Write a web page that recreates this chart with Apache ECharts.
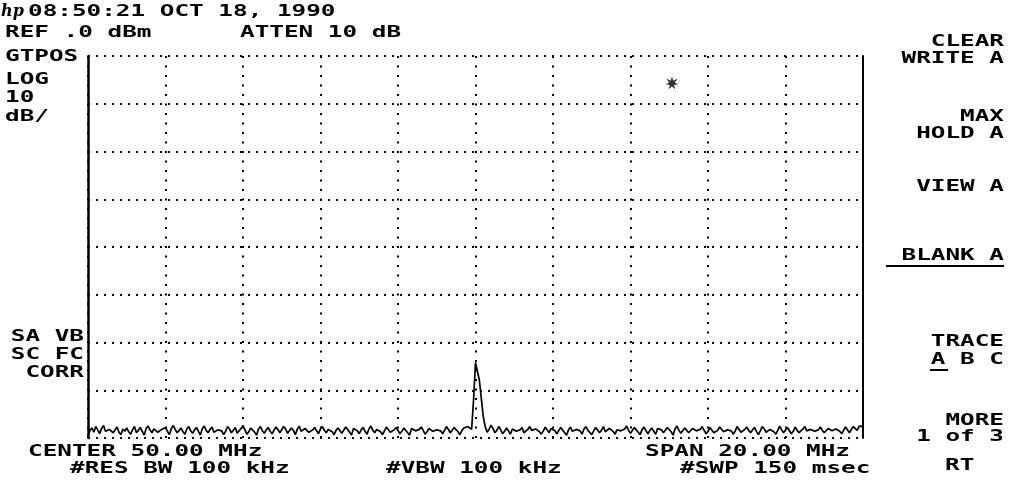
<!DOCTYPE html>
<html>
<head>
<meta charset="utf-8">
<script src="https://cdn.jsdelivr.net/npm/echarts@6/dist/echarts.min.js"></script>
<style>
html,body{margin:0;padding:0;background:#fff;}
#chart{width:1013px;height:487px;}
</style>
</head>
<body>
<div id="chart"></div>
<script>
// ---- data ----
const centerMHz = 50.0;
const spanMHz = 20.0;
const refLevel = 0;      // dBm
const dbPerDiv = 10;
const xTicks = [40, 42, 44, 46, 48, 50, 52, 54, 56, 58, 60];
const yTicks = [-80, -70, -60, -50, -40, -30, -20, -10, 0];
// trace A, 401 sweep points, dBm
const traceA = [
-79.6,-78.4,-77.9,-78.8,-77.6,-78.3,-79.1,-78.0,-77.4,-78.6,-79.0,-78.2,-77.8,-78.9,-78.5,-77.7,-78.8,-79.3,-78.1,-78.6,
-77.9,-78.7,-79.2,-78.3,-77.6,-78.9,-78.4,-77.8,-78.6,-79.4,-78.0,-77.5,-78.3,-78.9,-78.1,-77.7,-78.8,-79.1,-78.2,-78.5,
-77.8,-78.6,-79.3,-78.0,-77.4,-78.2,-78.9,-78.4,-77.9,-78.7,-79.2,-78.1,-77.6,-78.5,-79.0,-78.3,-77.8,-78.6,-79.4,-78.0,
-77.5,-78.4,-78.9,-78.2,-77.7,-78.8,-79.1,-78.3,-77.9,-78.5,-79.3,-78.6,-77.6,-78.1,-78.9,-78.4,-77.8,-79.0,-78.5,-78.0,
-77.4,-78.3,-79.2,-78.7,-77.9,-78.2,-78.8,-79.4,-78.1,-77.6,-78.5,-79.0,-78.3,-77.8,-78.6,-79.1,-78.4,-77.7,-78.2,-78.9,
-78.5,-77.6,-78.1,-79.0,-78.7,-77.9,-78.4,-79.3,-78.2,-77.5,-78.6,-78.9,-78.0,-77.7,-78.8,-79.2,-78.3,-77.8,-78.5,-79.1,
-78.1,-77.6,-78.4,-78.9,-78.2,-77.8,-78.7,-79.3,-78.4,-77.9,-78.3,-79.0,-78.6,-77.7,-78.2,-78.8,-79.4,-78.0,-77.6,-78.5,
-79.1,-78.3,-77.8,-78.6,-79.2,-78.1,-77.5,-78.4,-78.9,-78.2,-77.9,-78.7,-79.3,-78.5,-77.7,-78.1,-78.8,-79.0,-78.3,-77.8,
-78.4,-79.1,-78.6,-77.9,-78.2,-78.9,-79.4,-78.0,-77.6,-78.5,-78.8,-78.2,-77.7,-78.4,-79.2,-78.7,-78.0,-77.8,-78.6,-79.0,
-78.3,-77.9,-78.5,-79.1,-78.4,-77.6,-78.2,-78.9,-78.6,-77.8,-78.1,-78.7,-79.3,-78.4,-77.9,-78.2,-77.6,-77.4,-78.2,-72.0,
-64.2,-64.6,-67.9,-68.3,-75.5,-77.6,-78.8,-78.2,-77.3,-78.0,-78.9,-78.4,-77.6,-78.3,-79.1,-78.6,-77.9,-78.5,-79.2,-78.1,
-77.7,-78.6,-79.0,-78.3,-77.8,-78.9,-79.3,-78.2,-77.6,-78.4,-78.8,-78.1,-77.9,-78.7,-79.2,-78.5,-77.7,-78.3,-78.9,-78.0,
-77.6,-78.5,-79.1,-78.4,-77.8,-78.2,-78.9,-79.4,-78.3,-77.7,-78.6,-79.0,-78.2,-77.9,-78.5,-79.2,-78.1,-77.6,-78.4,-78.8,
-79.3,-78.5,-77.8,-78.2,-78.9,-78.4,-77.6,-78.7,-79.1,-78.0,-77.7,-78.6,-79.2,-78.3,-77.9,-78.5,-78.9,-78.1,-77.5,-78.4,
-79.0,-78.6,-77.8,-78.3,-78.8,-79.3,-78.2,-77.7,-78.5,-79.1,-78.4,-77.9,-78.6,-79.2,-78.0,-77.6,-78.3,-78.9,-78.5,-77.8,
-78.2,-78.7,-79.4,-78.1,-77.5,-78.4,-79.0,-78.6,-77.9,-78.3,-78.9,-79.2,-78.0,-77.7,-78.5,-78.8,-78.2,-77.6,-78.4,-79.1,
-78.6,-77.8,-78.2,-78.9,-79.3,-78.4,-77.7,-78.1,-78.7,-79.0,-78.3,-77.9,-78.5,-79.2,-78.6,-77.6,-78.0,-78.8,-79.1,-78.2,
-77.7,-78.4,-78.9,-78.3,-77.8,-78.6,-79.3,-78.5,-77.6,-78.1,-78.8,-79.0,-78.2,-77.9,-78.7,-79.2,-78.4,-77.5,-78.3,-78.9,
-78.5,-77.8,-78.2,-79.1,-78.6,-77.7,-78.4,-78.9,-79.3,-78.1,-77.6,-78.5,-78.8,-78.2,-77.9,-78.6,-79.0,-78.3,-77.7,-78.4,
-78.9,-79.2,-78.0,-77.6,-78.5,-78.8,-78.1,-77.8,-78.6,-79.1,-78.4,-77.7,-78.3,-78.9,-78.2,-77.6,-77.9,-78.4,-77.5,-77.2,
-77.6
];
// message marker ("*") position, MHz / dBm
const markerMsg = [[55.07, -5.6]];
// annotation texts
const headerTexts = ['08:50:21 OCT 18, 1990', 'REF .0 dBm', 'ATTEN 10 dB'];
const leftTexts = ['GTPOS', 'LOG', '10', 'dB/', 'SA VB', 'SC FC', 'CORR'];
const bottomTexts = ['CENTER 50.00 MHz', 'SPAN 20.00 MHz', '#RES BW 100 kHz', '#VBW 100 kHz', '#SWP 150 msec'];
const menuTexts = ['CLEAR', 'WRITE A', 'MAX', 'HOLD A', 'VIEW A', 'BLANK A', 'TRACE', 'A B C', 'MORE', '1 of 3', 'RT'];

// ---- chart ----
const N = traceA.length;
const fStart = centerMHz - spanMHz / 2;
const fStop = centerMHz + spanMHz / 2;
const seriesData = traceA.map((v, i) => [fStart + i * spanMHz / (N - 1), v]);

const FONT = '"DejaVu Sans Mono", monospace';
const FS = 16;
const SX = 1.52;
function txt(s, x, y, align) {
  return {
    type: 'text', x: x, y: y, scaleX: SX, scaleY: 1, z: 100,
    style: { text: s, fill: '#000', font: 'bold ' + FS + 'px ' + FONT, textAlign: align || 'left', textVerticalAlign: 'middle' }
  };
}
const graphics = [
  { type: 'text', x: 1, y: 12, z: 100, style: { text: 'hp', fill: '#000', font: 'italic bold 16px "DejaVu Serif", serif', textAlign: 'left', textVerticalAlign: 'middle' } },
  txt(headerTexts[0], 28, 12),
  txt(headerTexts[1], 5, 33),
  txt(headerTexts[2], 240, 33),
  txt(leftTexts[0], 5, 57),
  txt(leftTexts[1], 5, 80),
  txt(leftTexts[2], 5, 98),
  txt(leftTexts[3], 5, 117),
  txt(leftTexts[4], 84, 337, 'right'),
  txt(leftTexts[5], 84, 355, 'right'),
  txt(leftTexts[6], 84, 373, 'right'),
  txt(bottomTexts[0], 28, 452),
  txt(bottomTexts[1], 645, 452),
  txt(bottomTexts[2], 70, 469),
  txt(bottomTexts[3], 386, 469),
  txt(bottomTexts[4], 680, 469),
  txt(menuTexts[0], 1004, 42, 'right'),
  txt(menuTexts[1], 1004, 59, 'right'),
  txt(menuTexts[2], 1004, 117, 'right'),
  txt(menuTexts[3], 1004, 134, 'right'),
  txt(menuTexts[4], 1004, 187, 'right'),
  txt(menuTexts[5], 1004, 256, 'right'),
  txt(menuTexts[6], 1004, 342, 'right'),
  txt(menuTexts[7], 1004, 360, 'right'),
  txt(menuTexts[8], 1004, 421, 'right'),
  txt(menuTexts[9], 1004, 437, 'right'),
  txt(menuTexts[10], 945, 466),
  { type: 'line', z: 100, shape: { x1: 886, y1: 266, x2: 1004, y2: 266 }, style: { stroke: '#000', lineWidth: 2 } },
  { type: 'line', z: 100, shape: { x1: 930, y1: 370, x2: 948, y2: 370 }, style: { stroke: '#000', lineWidth: 2 } }
];

const chart = echarts.init(document.getElementById('chart'));
chart.setOption({
  backgroundColor: '#fff',
  animation: false,
  grid: { left: 88, right: 150, top: 56, bottom: 49, containLabel: false },
  xAxis: {
    type: 'value', min: fStart, max: fStop, interval: spanMHz / 10,
    axisLine: { show: false }, axisTick: { show: false }, axisLabel: { show: false },
    splitLine: { show: true, lineStyle: { color: '#000', width: 2, type: [2, 7.5] } }
  },
  yAxis: [{
    type: 'value', min: refLevel - 8 * dbPerDiv, max: refLevel, interval: dbPerDiv,
    axisLine: { show: true, lineStyle: { color: '#000', width: 2.5 } },
    axisTick: { show: false }, axisLabel: { show: false },
    splitLine: { show: true, lineStyle: { color: '#000', width: 2, type: [2, 6] } }
  }, {
    type: 'value', position: 'right', min: refLevel - 8 * dbPerDiv, max: refLevel, interval: dbPerDiv,
    axisLine: { show: true, onZero: false, lineStyle: { color: '#000', width: 2 } },
    axisTick: { show: false }, axisLabel: { show: false }, splitLine: { show: false }
  }],
  series: [{
    type: 'line', data: seriesData, symbol: 'none', clip: true,
    lineStyle: { color: '#000', width: 1.7 }, z: 5
  }, {
    type: 'scatter', data: markerMsg, symbol: 'path://M5,0 L6,3.5 L9.3,1.8 L7.2,5 L10,6.2 L6.6,6.8 L7.6,10 L5,7.8 L2.4,10 L3.4,6.8 L0,6.2 L2.8,5 L0.7,1.8 L4,3.5 Z',
    symbolSize: 13, itemStyle: { color: '#000' }, z: 6
  }],
  graphic: graphics
});
</script>
</body>
</html>
